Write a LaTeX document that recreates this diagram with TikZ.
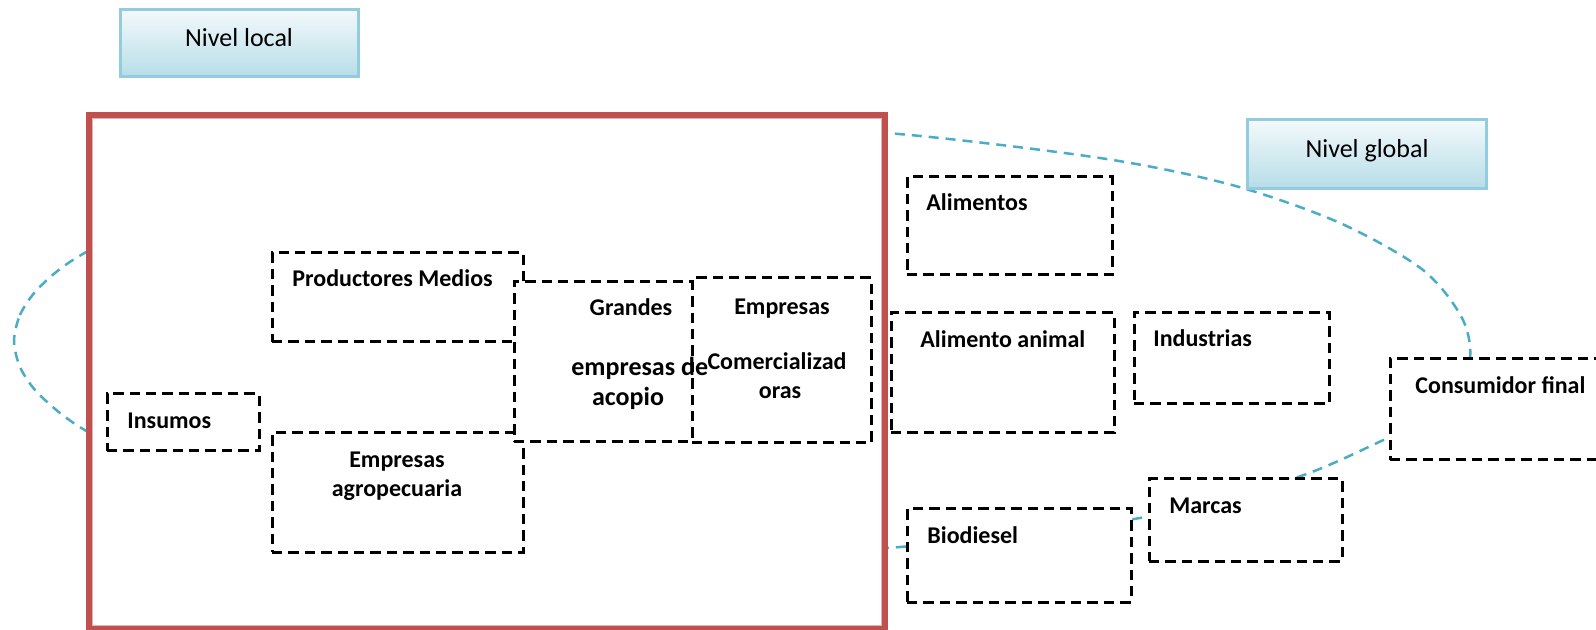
\documentclass[tikz,border=0pt]{standalone}
\usepackage{fontspec}
\setmainfont{Carlito}
\usetikzlibrary{fit}
\definecolor{redbox}{HTML}{C0504D}
\definecolor{pinkline}{HTML}{E6B0AE}
\definecolor{bluedash}{HTML}{4BACC6}
\definecolor{nivborder}{HTML}{93CDDD}
\definecolor{nivtop}{HTML}{F3F9FB}
\definecolor{nivbot}{HTML}{B6DDE8}
\begin{document}
\begin{tikzpicture}[x=0.5pt,y=-0.5pt,
 dbox/.style={draw=black, fill=white, line width=1.5pt, dash pattern=on 5.2pt off 3pt, inner sep=0pt},
 lbl/.style={inner sep=0pt, font=\fontsize{12}{14}\selectfont\bfseries},
 biglbl/.style={inner sep=0pt, font=\fontsize{13}{15}\selectfont\bfseries},
 nivel/.style={draw=nivborder, line width=1.5pt, top color=nivtop, bottom color=nivbot, inner sep=0pt},
 nivtxt/.style={inner sep=0pt, font=\fontsize{13}{15}\selectfont},
 orbit/.style={draw=bluedash, line width=1.25pt, dash pattern=on 5pt off 3.5pt},
 frame/.style={draw=redbox, fill=white, line width=3pt, inner sep=0pt}]
\useasboundingbox (0,0) rectangle (1596,630);
\fill[white] (0,0) rectangle (1596,630);
% background orbit
\draw[orbit] plot[smooth cycle, tension=0.5] coordinates {
 (14,341) (20,315) (35,292) (60,269) (90,250) (150,221) (300,177)
 (500,146) (752,134) (886,133) (1100,158)
 (1232,185) (1340,223) (1423,270) (1463,320) (1469,365) (1440,415)
 (1388,438) (1295,478) (1140,518) (900,547) (752,548) (500,536) (300,505)
 (150,461) (90,433) (60,413) (35,390) (20,367)};
% red frame
\node[frame, fit={(89,115.5) (885,629)}] (frame) {};
\node[draw=pinkline, line width=0.5pt, inner sep=0pt, fit={(92.5,119) (881.5,625.5)}] (frameinner) {};
% boxes inside frame
\node[dbox, fit={(272,253) (523,342)}] (prod) {};
\node[dbox, fit={(272,433) (523,552)}] (agro) {};
\node[dbox, fit={(107,394) (259,451)}] (insu) {};
\node[dbox, fit={(514,282) (740,442)}] (gran) {};
\node[dbox, fit={(692,278) (871,443)}] (come) {};
% boxes outside frame
\node[dbox, fit={(907,177) (1112,275)}] (alim) {};
\node[dbox, fit={(891,313) (1114,433)}] (anim) {};
\node[dbox, fit={(1134,313) (1329,404)}] (indu) {};
\node[dbox, fit={(1390,359) (1660,460)}] (cons) {};
\node[dbox, fit={(1149,479) (1342,561)}] (marc) {};
\node[dbox, fit={(907,509) (1131,602)}] (biod) {};
% level boxes
\node[nivel, fit={(120,10) (358,77)}] (nloc) {};
\node[nivel, fit={(1247,120) (1486,189)}] (nglo) {};
% texts
\node[nivtxt, anchor=base] (tnloc) at (239,47) {Nivel local};
\node[nivtxt, anchor=base] (tnglo) at (1367,158) {Nivel global};
\node[lbl, anchor=base west] (tprod) at (292,287) {Productores Medios};
\node[lbl, anchor=base west] (tinsu) at (127,429) {Insumos};
\node[lbl, anchor=base] (tagro1) at (397,468) {Empresas};
\node[lbl, anchor=base] (tagro2) at (397,497) {agropecuaria};
\node[lbl, anchor=base] (tgran1) at (631,316) {Grandes};
\node[biglbl, anchor=base west] (tgran2) at (571,376) {empresas de};
\node[biglbl, anchor=base] (tgran3) at (628,406) {acopio};
\node[lbl, anchor=base] (tcom1) at (782,315) {Empresas};
\node[lbl, anchor=base] (tcom2) at (777,370) {Comercializad};
\node[lbl, anchor=base] (tcom3) at (780,399) {oras};
\node[lbl, anchor=base west] (talim) at (926,211) {Alimentos};
\node[lbl, anchor=base west] (tanim) at (920,348) {Alimento animal};
\node[lbl, anchor=base west] (tindu) at (1153,347) {Industrias};
\node[lbl, anchor=base west] (tcons) at (1415,394) {Consumidor final};
\node[lbl, anchor=base west] (tmarc) at (1169,514) {Marcas};
\node[lbl, anchor=base west] (tbiod) at (927,544) {Biodiesel};
\end{tikzpicture}
\end{document}
